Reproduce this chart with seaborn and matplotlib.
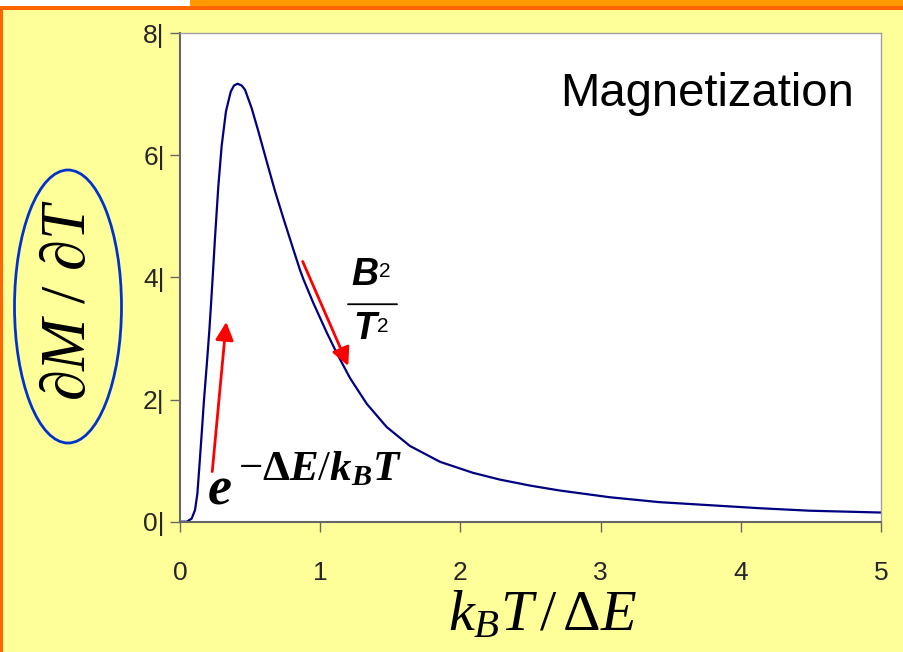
import matplotlib
matplotlib.use("Agg")
import matplotlib.pyplot as plt
from matplotlib.patches import Ellipse, Rectangle
import seaborn as sns
import pandas as pd

# dM/dT versus reduced temperature k_B T / dE
kT_over_dE = [0.0, 0.048, 0.083, 0.107, 0.124, 0.138, 0.155, 0.171, 0.190, 0.209,
              0.221, 0.233, 0.250, 0.273, 0.297, 0.328, 0.362, 0.385, 0.411, 0.440,
              0.464, 0.511, 0.559, 0.618, 0.678, 0.737, 0.808, 0.856, 0.880, 0.951,
              1.046, 1.118, 1.213, 1.332, 1.474, 1.64, 1.855, 2.09, 2.28, 2.50,
              2.71, 3.067, 3.42, 3.78, 4.14, 4.49, 5.0]
dM_dT = [0.0, 0.0, 0.05, 0.19, 0.46, 0.90, 1.45, 1.99, 2.54, 3.12,
         3.55, 4.00, 4.66, 5.48, 6.15, 6.72, 7.04, 7.14, 7.17, 7.14,
         7.07, 6.77, 6.39, 5.90, 5.41, 4.97, 4.46, 4.12, 3.97, 3.58,
         3.10, 2.76, 2.35, 1.93, 1.55, 1.24, 0.98, 0.80, 0.69, 0.59,
         0.51, 0.40, 0.32, 0.27, 0.22, 0.18, 0.15]

x_ticks = [0, 1, 2, 3, 4, 5]
y_ticks = [0, 2, 4, 6, 8]
y_tick_labels = [f"{v}|" for v in y_ticks]

df = pd.DataFrame({"t": kT_over_dE, "dmdt": dM_dT})

sns.set_theme(style="white")
plt.rcParams["font.family"] = ["Liberation Sans", "DejaVu Sans"]
plt.rcParams["mathtext.fontset"] = "custom"
plt.rcParams["mathtext.rm"] = "Liberation Serif"
plt.rcParams["mathtext.it"] = "Liberation Serif:italic"
plt.rcParams["mathtext.bf"] = "Liberation Serif:bold"
plt.rcParams["mathtext.bfit"] = "Liberation Serif:italic:bold"

W, H = 904, 652
fig = plt.figure(figsize=(W / 100, H / 100), dpi=100, facecolor="#FFFF99")

# slide frame
fig.patches.append(Rectangle((0, 1 - 6 / H), 190 / W, 6 / H, transform=fig.transFigure,
                             facecolor="white", edgecolor="none", zorder=0))
fig.patches.append(Rectangle((190 / W, 1 - 6 / H), 1, 6 / H, transform=fig.transFigure,
                             facecolor="#FF9900", edgecolor="none", zorder=0))
fig.patches.append(Rectangle((0, 1 - 10 / H), 1, 4 / H, transform=fig.transFigure,
                             facecolor="#FF6600", edgecolor="none", zorder=0))
fig.patches.append(Rectangle((0, 0), 3 / W, 1 - 10 / H, transform=fig.transFigure,
                             facecolor="#FF6600", edgecolor="none", zorder=0))

ax = fig.add_axes([180 / W, 1 - 521.7 / H, 701 / W, (521.7 - 33) / H])
ax.set_facecolor("white")

sns.lineplot(data=df, x="t", y="dmdt", ax=ax, color="#000080", linewidth=1.6,
             sort=False, estimator=None)

ax.set_xlim(0, 5)
ax.set_ylim(0, 8)
ax.set_xticks(x_ticks)
ax.set_xticklabels([str(v) for v in x_ticks])
ax.set_yticks(y_ticks)
ax.set_yticklabels(y_tick_labels)
ax.set_xlabel("")
ax.set_ylabel("")
ax.tick_params(axis="x", direction="out", length=7, width=1, color="#666666",
               labelsize=19, pad=21, bottom=True)
ax.tick_params(axis="y", direction="out", length=7, width=1, color="#666666",
               labelsize=19, pad=4, left=True)
for side in ["left", "bottom"]:
    ax.spines[side].set_color("#666666")
    ax.spines[side].set_linewidth(1.5)
for side in ["top", "right"]:
    ax.spines[side].set_color("#A0A0A0")
    ax.spines[side].set_linewidth(1.0)

# arrows marking the two regimes
arrow_style = "-|>,head_length=0.5,head_width=0.25"
ax.annotate("", xy=(0.330, 3.27), xytext=(0.230, 0.82),
            arrowprops=dict(arrowstyle=arrow_style, color="red", lw=2, mutation_scale=22,
                            shrinkA=0, shrinkB=0))
ax.annotate("", xy=(1.200, 2.55), xytext=(0.875, 4.26),
            arrowprops=dict(arrowstyle=arrow_style, color="red", lw=2, mutation_scale=22,
                            shrinkA=0, shrinkB=0))

# activated regime label: e^{-dE/k_B T}
ax.text(0.193, 0.306, r"$\mathbfit{e}$", fontsize=39, ha="left", va="baseline",
        color="black")
ax.text(0.414, 0.683,
        r"$-\mathbf{\Delta}\mathbfit{E}/\mathbfit{k}_{\mathbfit{B}}\mathbfit{T}$",
        fontsize=31, ha="left", va="baseline", color="black")

# high-temperature regime label B^2/T^2
ax.text(1.32, 4.04, "B", fontsize=27, fontweight="bold", fontstyle="italic",
        ha="center", va="center", color="black")
ax.text(1.462, 4.10, "2", fontsize=15, ha="center", va="center", color="black")
ax.annotate("", xy=(1.548, 3.56), xytext=(1.198, 3.56),
            arrowprops=dict(arrowstyle="-", color="black", lw=1.3, shrinkA=0, shrinkB=0))
ax.text(1.32, 3.16, "T", fontsize=27, fontweight="bold", fontstyle="italic",
        ha="center", va="center", color="black")
ax.text(1.448, 3.20, "2", fontsize=15, ha="center", va="center", color="black")

fig.text(560 / W, 1 - 106 / H, "Magnetization", fontsize=34, ha="left",
         va="baseline", color="black")

# axis titles
fig.text(543 / W, 1 - 630 / H, r"$k_B T\,/\,\Delta E$", fontsize=42,
         ha="center", va="baseline", color="black")
fig.text(68 / W, 1 - 300 / H, r"$\partial M\ /\ \partial T$", fontsize=45,
         rotation=90, ha="center", va="center", color="black")
fig.patches.append(Ellipse((68 / W, 1 - 306.5 / H), 107 / W, 273 / H,
                           transform=fig.transFigure, facecolor="none",
                           edgecolor="#0033CC", linewidth=2))

fig.savefig("out.png", dpi=100, facecolor=fig.get_facecolor())
